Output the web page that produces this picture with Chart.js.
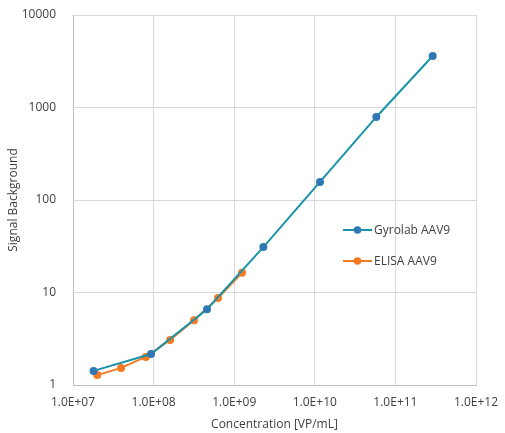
<!DOCTYPE html>
<html><head><meta charset="utf-8">
<script src="https://cdn.jsdelivr.net/npm/chart.js@4"></script>
<style>html,body{margin:0;padding:0;background:#fff}#w{width:505px;height:433px}</style>
</head><body><div id="w"><canvas id="c"></canvas></div>
<script>
const gyroConc = [1.8e7, 9.3e7, 4.6e8, 2.3e9, 1.16e10, 5.8e10, 2.9e11];
const gyroSignal = [1.42, 2.16, 6.6, 31, 157, 790, 3600];
const elisaConc = [2.0e7, 3.95e7, 8.0e7, 1.6e8, 3.17e8, 6.3e8, 1.25e9];
const elisaSignal = [1.28, 1.53, 2.01, 3.07, 5.0, 8.7, 16.3];
const xTicks = [1e7, 1e8, 1e9, 1e10, 1e11, 1e12];
const yTicks = [1, 10, 100, 1000, 10000];
const seriesNames = ['Gyrolab AAV9', 'ELISA AAV9'];

const pts = (xs, ys) => xs.map((x, i) => ({x, y: ys[i]}));
const FONT = "'Open Sans', Lato, sans-serif";

const legendPlugin = {
  id: 'inLegend',
  afterDraw(chart) {
    const ctx = chart.ctx, a = chart.chartArea;
    const items = chart.data.datasets;
    const x0 = a.left + 270, y0 = a.top + 215, gap = 31;
    items.forEach((d, i) => {
      const y = y0 + i * gap;
      ctx.save();
      ctx.strokeStyle = d.borderColor; ctx.lineWidth = 2;
      ctx.beginPath(); ctx.moveTo(x0, y); ctx.lineTo(x0 + 29, y); ctx.stroke();
      ctx.fillStyle = d.pointBackgroundColor;
      ctx.beginPath(); ctx.arc(x0 + 14.5, y, 3.8, 0, Math.PI * 2); ctx.fill();
      ctx.fillStyle = '#404040'; ctx.font = "12px " + FONT;
      ctx.textBaseline = 'middle'; ctx.textAlign = 'left';
      ctx.fillText(d.label, x0 + 31, y + 0.5);
      ctx.restore();
    });
  }
};

new Chart(document.getElementById('c'), {
  type: 'line',
  data: {
    datasets: [
      {label: seriesNames[0], data: pts(gyroConc, gyroSignal), borderColor: '#1a93a8', backgroundColor: '#2f78b4',
       pointBackgroundColor: '#2f78b4', pointBorderColor: '#2f78b4', pointBorderWidth: 0, borderWidth: 2, pointRadius: 4, tension: 0},
      {label: seriesNames[1], data: pts(elisaConc, elisaSignal), borderColor: '#f47a22', backgroundColor: '#f47a22',
       pointBackgroundColor: '#f47a22', pointBorderColor: '#f47a22', pointBorderWidth: 0, borderWidth: 2, pointRadius: 4, tension: 0}
    ]
  },
  options: {
    responsive: true, maintainAspectRatio: false, animation: false,
    layout: {padding: {top: 15, right: 29, left: 0, bottom: 0}},
    plugins: {legend: {display: false}, tooltip: {enabled: false}},
    scales: {
      x: {
        type: 'logarithmic', min: 1e7, max: 1e12,
        afterBuildTicks: s => { s.ticks = xTicks.map(v => ({value: v})); },
        afterFit: s => { s.height = 48; s.paddingLeft = 0; s.paddingRight = 0; },
        ticks: {color: '#404040', font: {size: 12, family: FONT}, padding: 10, maxRotation: 0, autoSkip: false,
          callback: v => Number(v).toExponential(1).toUpperCase().replace(/E\+?(-?)(\d)$/, 'E+$10$2').replace('E+-','E-')},
        grid: {color: '#d9d9d9', lineWidth: 1, drawTicks: false},
        border: {color: '#bfbfbf'},
        title: {display: true, text: 'Concentration [VP/mL]', color: '#404040', font: {size: 12, family: FONT}, padding: {top: 0, bottom: 1}}
      },
      y: {
        type: 'logarithmic', min: 1, max: 10000,
        afterBuildTicks: s => { s.ticks = yTicks.map(v => ({value: v})); },
        afterFit: s => { s.width = 73; s.paddingTop = 0; s.paddingBottom = 0; },
        ticks: {color: '#404040', font: {size: 12, family: FONT}, padding: 17, autoSkip: false, callback: v => String(v)},
        grid: {color: '#d9d9d9', lineWidth: 1, drawTicks: false},
        border: {color: '#bfbfbf'},
        title: {display: true, text: 'Signal Background', color: '#404040', font: {size: 12, family: FONT}, padding: {top: 6, bottom: 0}}
      }
    }
  },
  plugins: [legendPlugin]
});
</script></body></html>
